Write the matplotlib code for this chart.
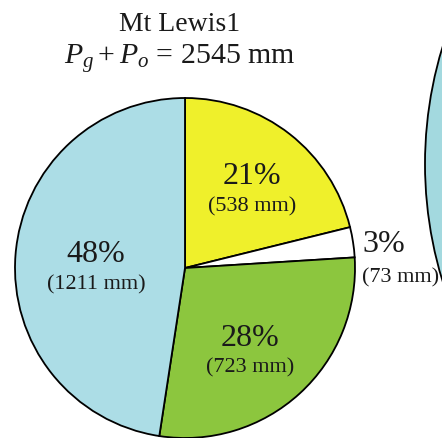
import matplotlib
matplotlib.use("Agg")
import matplotlib.pyplot as plt

plt.rcParams['font.family'] = 'serif'
plt.rcParams['font.serif'] = ['Liberation Serif', 'DejaVu Serif']
plt.rcParams['mathtext.fontset'] = 'custom'
plt.rcParams['mathtext.rm'] = 'Liberation Serif'
plt.rcParams['mathtext.it'] = 'Liberation Serif:italic'

# Mt Lewis1 precipitation components (mm), clockwise from 12 o'clock
site = "Mt Lewis1"
components = ["P3", "P4", "P2", "P1"]
amounts_mm = [538, 73, 723, 1211]
colors = ["#eff02b", "#ffffff", "#8cc63e", "#acdde6"]
total_mm = sum(amounts_mm)

W, H = 442, 439
fig = plt.figure(figsize=(W / 100, H / 100), dpi=100)
ax = fig.add_axes([0, 0, 1, 1])

# main pie, axes units are pixels (y measured from bottom)
cx, cy, r = 185, H - 269, 170
wedges, _ = ax.pie(amounts_mm, colors=colors, startangle=90, counterclock=False,
                   center=(cx, cy), radius=r,
                   wedgeprops=dict(edgecolor='black', linewidth=1.3))

# neighbouring site's pie, only its left rim is in frame
ax.pie([1], colors=["#a3d9df"], startangle=90, center=(825, H - 165), radius=400,
       wedgeprops=dict(edgecolor='black', linewidth=1.3))

ax.set_xlim(0, W)
ax.set_ylim(0, H)
ax.set_aspect('equal')
ax.axis('off')

# percentage / amount labels
label_pos = {
    538: (252, 176, 207, 'center'),
    73: (362, 244, 278, 'left'),
    723: (250, 338, 368, 'center'),
    1211: (96, 255, 285, 'center'),
}
txt = '#1a1a1a'
for v in amounts_mm:
    x, y1, y2, ha = label_pos[v]
    pct = round(100 * v / total_mm)
    ax.text(x, H - y1, f"{pct}%", fontsize=23, ha=ha, va='center', color=txt)
    ax.text(x, H - y2, f"({v} mm)", fontsize=16, ha=ha, va='center', color=txt)

ax.text(180, H - 24, site, fontsize=20, ha='center', va='center', color=txt)
ax.text(180, H - 58, r"$P_g + P_o$ = " + f"{total_mm} mm", fontsize=21.5,
        ha='center', va='center', color=txt)

fig.savefig("out.png", dpi=100, facecolor='white')
